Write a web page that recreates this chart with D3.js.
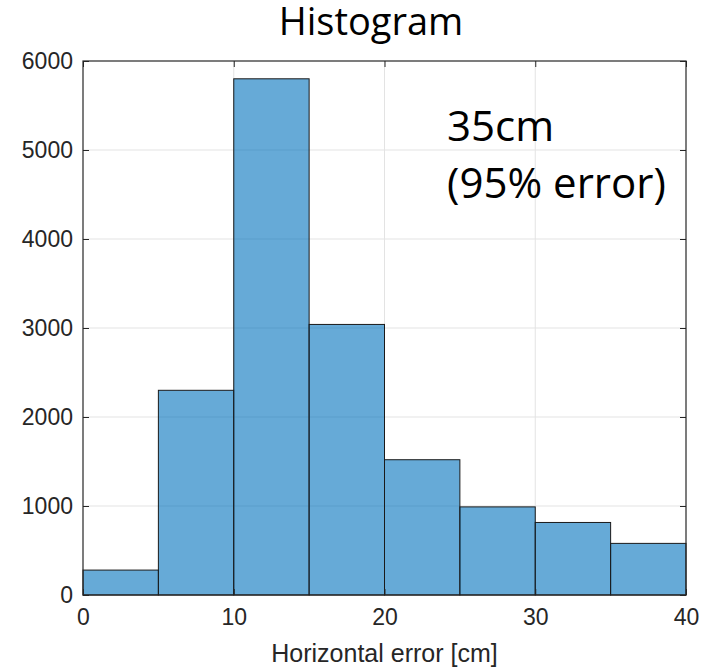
<!DOCTYPE html>
<meta charset="utf-8">
<style>
body { margin: 0; background: #fff; }
.tick text { font-family: "Liberation Sans", Arial, sans-serif; font-size: 23px; fill: #262626; }
.grid line { stroke: #e3e3e3; stroke-width: 1; }
</style>
<svg width="715" height="668" id="chart"></svg>
<script src="https://d3js.org/d3.v7.min.js"></script>
<script>
// bin edges and counts
var binStart = [0, 5, 10, 15, 20, 25, 30, 35];
var binWidth = 5;
var counts = [280, 2300, 5800, 3040, 1520, 990, 815, 580];
var xTicks = [0, 10, 20, 30, 40];
var yTicks = [0, 1000, 2000, 3000, 4000, 5000, 6000];
var note = ["35cm", "(95% error)"];

var svg = d3.select("#chart");
var pLeft = 83, pRight = 686, pTop = 61, pBottom = 595;

var x = d3.scaleLinear().domain([0, 40]).range([pLeft, pRight]);
var y = d3.scaleLinear().domain([0, 6000]).range([pBottom, pTop]);

// grid
var grid = svg.append("g").attr("class", "grid");
grid.selectAll(".gx").data(xTicks.slice(1, -1)).enter().append("line")
  .attr("x1", d => x(d)).attr("x2", d => x(d)).attr("y1", pTop).attr("y2", pBottom);
grid.selectAll(".gy").data(yTicks.slice(1, -1)).enter().append("line")
  .attr("y1", d => y(d)).attr("y2", d => y(d)).attr("x1", pLeft).attr("x2", pRight);

// bars
svg.append("g").selectAll("rect")
  .data(binStart.map((s, i) => ({s: s, c: counts[i]})))
  .enter().append("rect")
    .attr("x", d => x(d.s))
    .attr("width", d => x(d.s + binWidth) - x(d.s))
    .attr("y", d => y(d.c))
    .attr("height", d => y(0) - y(d.c))
    .attr("fill", "#0072bd").attr("fill-opacity", 0.6)
    .attr("stroke", "#1a1a1a").attr("stroke-width", 1);

// axes, ticks pointing inward, box on
var tl = 6;
svg.append("g").attr("transform", "translate(0," + pBottom + ")")
  .call(d3.axisBottom(x).tickValues(xTicks).tickSizeInner(-tl).tickSizeOuter(0).tickPadding(14).tickFormat(d3.format("d")));
svg.append("g").attr("transform", "translate(" + pLeft + ",0)")
  .call(d3.axisLeft(y).tickValues(yTicks).tickSizeInner(-tl).tickSizeOuter(0).tickPadding(10).tickFormat(d3.format("d")));
svg.append("g").attr("transform", "translate(0," + pTop + ")")
  .call(d3.axisTop(x).tickValues(xTicks).tickSizeInner(-tl).tickSizeOuter(0).tickFormat(""));
svg.append("g").attr("transform", "translate(" + pRight + ",0)")
  .call(d3.axisRight(y).tickValues(yTicks).tickSizeInner(-tl).tickSizeOuter(0).tickFormat(""));
svg.selectAll(".domain").remove();
svg.selectAll(".tick line").attr("stroke", "#262626");

svg.append("rect").attr("x", pLeft).attr("y", pTop)
  .attr("width", pRight - pLeft).attr("height", pBottom - pTop)
  .attr("fill", "none").attr("stroke", "#262626").attr("stroke-width", 1.2);

// title
svg.append("text").attr("x", 371).attr("y", 35).attr("text-anchor", "middle")
  .style("font-family", "'Open Sans', 'Noto Sans', sans-serif").style("font-size", "38px")
  .style("fill", "#000").text("Histogram");

// x label
svg.append("text").attr("x", (pLeft + pRight) / 2).attr("y", 662).attr("text-anchor", "middle")
  .style("font-family", "'Liberation Sans', Arial, sans-serif").style("font-size", "25px")
  .style("fill", "#262626").text("Horizontal error [cm]");

// annotation
svg.append("g").selectAll("text").data(note).enter().append("text")
  .attr("x", 447).attr("y", (d, i) => 141 + i * 57)
  .style("font-family", "'Open Sans', 'Noto Sans', sans-serif").style("font-size", "42px")
  .style("fill", "#000").text(d => d);
</script>
